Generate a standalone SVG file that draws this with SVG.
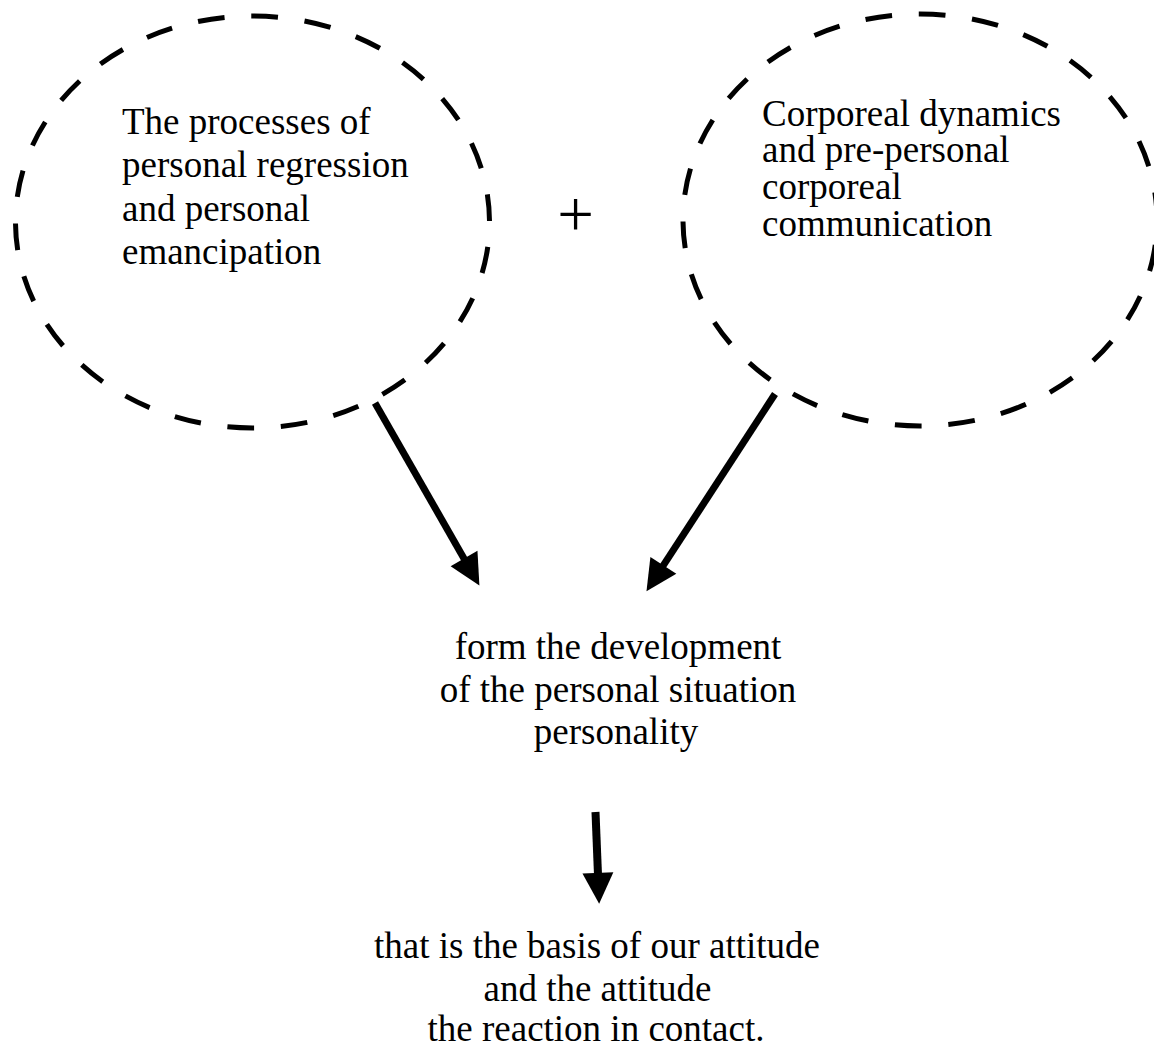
<svg xmlns="http://www.w3.org/2000/svg" width="1154" height="1050" viewBox="0 0 1154 1050">
  <style>
    .bubble { fill: none; stroke: #000; stroke-width: 5; stroke-dasharray: 26.8 26.8; stroke-dashoffset: 28.6; }
    .label { font-family: "Liberation Serif", "Times New Roman", serif; font-size: 37px; fill: #000; }
    .mid { text-anchor: middle; }
    .arrow { fill: none; stroke: #000; stroke-width: 7; marker-end: url(#head); }
  </style>
  <defs>
    <marker id="head" markerUnits="userSpaceOnUse" markerWidth="32" markerHeight="32" viewBox="0 -15 30 30" refX="2" refY="0" orient="auto" overflow="visible">
      <path d="M0,-14.5 L29,0 L0,14.5 Z" fill="#000"/>
    </marker>
  </defs>
  <rect width="1154" height="1050" fill="#fff"/>

  <!-- left bubble -->
  <g id="node-regression">
    <ellipse class="bubble" cx="252.5" cy="222" rx="237" ry="206"/>
    <text class="label" x="122" y="134">The processes of</text>
    <text class="label" x="122" y="177">personal regression</text>
    <text class="label" x="122" y="221">and personal</text>
    <text class="label" x="122" y="264">emancipation</text>
  </g>

  <!-- plus sign between the bubbles -->
  <g id="node-plus">
    <text class="label mid" x="575.5" y="236" style="font-size:65px">+</text>
  </g>

  <!-- right bubble -->
  <g id="node-corporeal">
    <ellipse class="bubble" cx="920" cy="220" rx="237" ry="206"/>
    <text class="label" x="762" y="126">Corporeal dynamics</text>
    <text class="label" x="762" y="162">and pre-personal</text>
    <text class="label" x="762" y="199">corporeal</text>
    <text class="label" x="762" y="236">communication</text>
  </g>

  <!-- result -->
  <g id="node-development">
    <text class="label mid" x="618" y="659">form the development</text>
    <text class="label mid" x="618" y="702">of the personal situation</text>
    <text class="label mid" x="616" y="744">personality</text>
  </g>

  <!-- consequence -->
  <g id="node-attitude">
    <text class="label mid" x="597" y="958">that is the basis of our attitude</text>
    <text class="label mid" x="597.5" y="1001">and the attitude</text>
    <text class="label mid" x="596" y="1041">the reaction in contact.</text>
  </g>

  <g id="connectors">
    <path class="arrow" d="M375,403 L465.1,560.4"/>
    <path class="arrow" d="M775,394 L662.2,567.2"/>
    <path class="arrow" d="M595.5,812 L598,875" style="stroke-width:8"/>
  </g>
</svg>
